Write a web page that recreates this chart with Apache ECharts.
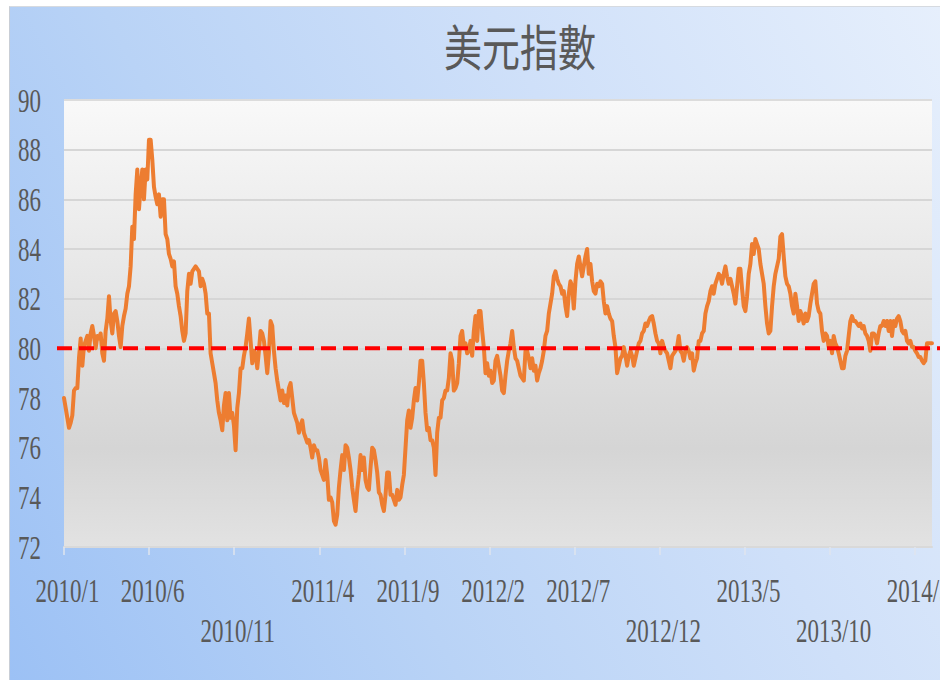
<!DOCTYPE html>
<html>
<head>
<meta charset="utf-8">
<script src="https://cdn.jsdelivr.net/npm/echarts@6/dist/echarts.min.js"></script>
<style>
  html, body { margin: 0; padding: 0; background: #ffffff; }
  #wrap { position: relative; width: 940px; height: 680px; overflow: hidden; background: #ffffff; }
  #bg { position: absolute; left: 9px; top: 6px; width: 931px; height: 674px;
        border-left: 1px solid #c9ced6; border-top: 1px solid #d6dae0;
        background: linear-gradient(62deg, #9cc1f5 0%, #b9d3f6 35%, #cfe0f9 65%, #e6effc 100%); }
  #main { position: absolute; left: 0; top: 0; width: 940px; height: 680px; }
</style>
</head>
<body>
<div id="wrap"><div id="bg"></div><div id="main"></div></div>
<script>
// ---- data -------------------------------------------------------------
const chartTitle = '美元指數';
const startDate = '2010/1/1';
const stepDays = 2.975;              // spacing of the samples
const tickIntervalDays = 152;        // ~5 months
const axisMaxDays = 1550;
const tickLabels = ['2010/1','2010/6','2010/11','2011/4','2011/9','2012/2','2012/7','2012/12','2013/5','2013/10','2014/3'];
const tickRows   = [0, 0, 1, 0, 0, 0, 0, 1, 0, 1, 0];
const yMin = 72, yMax = 90, yStep = 2;
const baselineValue = 80;

const usdIndexA = [
78.0,77.6,77.2,76.8,77.0,77.3,78.3,78.4,78.4,79.6,80.4,79.3,80.1,80.3,80.5,79.9,80.6,80.9,80.5,80.0,
80.5,80.4,80.6,79.8,79.5,80.7,81.2,82.1,81.1,80.6,81.4,81.5,81.1,80.5,80.05,80.9,81.3,81.6,82.2,82.5,
83.3,84.9,84.4,86.2,87.2,85.6,86.5,87.2,86.0,87.2,86.8,88.4,88.4,87.6,86.5,86.1,85.8,86.2,85.3,86.0,
86.0,84.6,84.4,83.8,83.6,83.3,83.5,82.5,82.2,81.7,81.3,80.7,80.3,80.6,82.3,83.0,82.6,83.1,83.2,83.3,
83.2,83.1,82.5,82.8,82.6,82.2,81.4,81.4,79.8,79.4,79.0,78.6,77.9,77.4,77.1,76.7,77.7,78.2,77.1,78.2,
77.2,77.4,76.9,75.9,77.6,78.2,79.2,79.2,79.7,80.05,80.6,81.2,80.3,79.4,79.9,79.8,79.2,79.9,80.7,80.6,
80.3,79.7,79.0,79.8,81.1,80.9,79.9,79.2,78.7,78.3,77.9,78.3,77.8,78.1,77.7,78.4,78.6,78.0,77.4,77.2,
77.0,76.6,76.9,77.1,76.6,76.4,76.2,76.3,76.0,75.6,76.1,75.9,75.9,75.6
];
const usdIndexB = [
75.1,74.9,74.7,75.5,74.9,73.9,74.0,73.8,73.05,72.9,73.3,74.4,75.1,75.7,75.1,76.1,76.0,75.6,75.1,74.4,
73.9,73.45,74.3,74.9,75.7,75.1,75.6,74.7,74.4,74.3,75.2,76.0,75.9,75.5,75.0,74.2,74.1,73.7,73.45,74.1,
75.0,75.0,74.1,74.1,73.9,73.7,74.3,73.9,74.0,74.5,74.9,76.0,77.1,77.5,76.8,77.2,77.9,78.4,77.9,78.6,
79.5,79.5,78.6,77.4,76.7,76.8,76.3,76.3,76.0,74.9,76.6,77.2,77.2,77.9,78.0,78.3,78.3,78.8,79.8,79.5,
78.3,78.4,78.6,79.4,80.5,80.7,80.05,80.2,79.8,79.9,80.3,79.7,80.7,81.3,80.3,81.5,81.5,80.7,80.05,79.0,
79.4,78.9,79.1,78.6,78.7,79.5,79.7,79.3,78.9,78.3,78.2,78.9,79.5,79.9,80.2,80.7,80.05,79.6,79.5,79.2,
78.9,78.8,78.7,79.9,79.9,79.6,79.2,79.6,79.1,79.3,78.7,79.0,79.2,79.5,79.9,80.5,80.7,81.4,81.8,82.2,
82.9,83.1,82.8,82.6,82.5,82.2,82.3,81.7,81.3,82.2,82.7,82.5,81.6,82.7,83.4,83.7,83.3,82.9,83.3,83.7,
84.0,83.0,83.4,82.7,82.3,82.2,82.6,82.5,82.7,82.6,81.9,81.4,81.7,81.4,81.2,81.1,80.5,80.05,79.0,79.3
];
const usdIndexC = [
79.6,79.7,80.05,79.7,79.3,79.7,79.9,79.7,79.3,79.6,79.9,80.2,80.3,80.6,80.7,81.0,80.9,81.1,81.25,81.3,
81.0,80.6,80.3,80.2,79.8,80.3,80.05,79.9,79.8,79.5,79.2,79.7,79.8,79.9,80.05,80.5,79.9,79.8,79.5,79.9,
80.05,79.9,79.6,79.8,79.1,79.4,79.6,80.3,80.3,80.6,80.7,81.4,81.7,81.9,82.3,82.5,82.2,82.6,82.8,83.0,
82.9,82.6,83.0,83.3,82.9,82.6,82.8,82.5,82.2,81.8,82.5,83.2,83.2,82.4,81.7,81.5,82.1,83.0,83.4,84.2,
83.8,84.4,84.2,84.0,83.4,83.0,82.6,81.7,81.0,80.6,80.7,81.7,82.5,83.0,83.3,83.6,84.5,84.6,83.7,82.9,
82.6,82.5,82.2,81.7,81.4,82.2,81.7,81.1,81.5,81.3,81.0,81.4,81.1,81.3,81.8,82.2,82.6,82.7,81.8,81.5,
81.4,80.7,80.3,80.6,80.5,80.05,80.3,79.8,80.5,80.2,80.05,79.8,79.5,79.2,79.2,79.7,79.9,80.5,81.1,81.3,
81.1,81.1,81.0,80.9,81.0,80.8,80.9,80.6,80.5,80.3,79.9,80.6,80.6,80.5,80.2,80.6,80.9,80.9,81.1,80.9,
81.1,80.7,81.1,80.5,81.1,80.9,81.2,81.3,81.1,80.7,80.6,80.7,80.3,80.2,80.3,80.05,80.05,79.9,79.8,79.65,
79.65,79.5,79.4,79.5,80.2,80.2,80.2,80.2
];

// ---- build ------------------------------------------------------------
const usdIndex = usdIndexA.concat(usdIndexB, usdIndexC);
const seriesData = usdIndex.map((v, i) => [i * stepDays, v]);

const textColor = '#595959';
const serif = '"Liberation Serif", "Times New Roman", serif';
const LABEL_STRETCH = 1.45;
const TITLE_STRETCH = 1.3;

const chart = echarts.init(document.getElementById('main'), null, { renderer: 'svg', width: 940, height: 680 });

chart.setOption({
  animation: false,
  backgroundColor: 'transparent',
  title: {
    text: chartTitle,
    left: 515,
    top: 21,
    textAlign: 'center',
    textStyle: { fontFamily: '"Noto Sans CJK TC", "Noto Sans CJK SC", sans-serif', fontSize: 38, fontWeight: 'normal', color: textColor }
  },
  grid: [
    { left: 64, right: 8, top: 100, bottom: 133, show: true, borderWidth: 0,
      outerBoundsMode: 'none', containLabel: false,
      backgroundColor: { type: 'linear', x: 0, y: 0, x2: 0, y2: 1, colorStops: [
        { offset: 0, color: '#f9f9f9' }, { offset: 0.5, color: '#e2e2e2' },
        { offset: 0.78, color: '#d5d5d5' }, { offset: 1, color: '#e2e2e2' } ] } },
    { left: 57, right: 0, top: 100, bottom: 133, outerBoundsMode: 'none', containLabel: false }
  ],
  xAxis: [
    { type: 'value', gridIndex: 0, min: 0, max: axisMaxDays, interval: tickIntervalDays,
      splitLine: { show: false },
      axisLine: { show: true, onZero: false, lineStyle: { color: '#d9d9d9', width: 2 } },
      axisTick: { show: true, length: 8, lineStyle: { color: '#dfe5ee', width: 1.5 } },
      axisLabel: {
        margin: 23, lineHeight: 40, fontSize: 23, fontFamily: serif, color: textColor,
        padding: [0, 0, 0, 7],
        showMinLabel: true, showMaxLabel: false,
        formatter: v => {
          const i = Math.round(v / tickIntervalDays);
          const lab = tickLabels[i] || '';
          return tickRows[i] ? '\n' + lab : lab;
        }
      } },
    { type: 'value', gridIndex: 1, min: 0, max: 1, show: false }
  ],
  yAxis: [
    { type: 'value', gridIndex: 0, min: yMin, max: yMax, interval: yStep,
      axisLine: { show: false }, axisTick: { show: false },
      splitLine: { show: true, lineStyle: {
        // 72 … 90: lower lines blend into the darker band of the plot gradient
        color: ['#e0e0e0', '#dbdbdb', '#d5d5d5', '#dadada', '#d6d6d6', '#d6d6d6', '#d6d6d6', '#d6d6d6', '#d6d6d6', '#dcdcdc'],
        width: 2 } },
      axisLabel: { margin: 23, fontSize: 23, fontFamily: serif, color: textColor } },
    { type: 'value', gridIndex: 1, min: yMin, max: yMax, show: false }
  ],
  series: [
    { name: chartTitle, type: 'line', xAxisIndex: 0, yAxisIndex: 0, data: seriesData,
      showSymbol: false, symbol: 'none', z: 2,
      lineStyle: { color: '#ed7d31', width: 4, join: 'round', cap: 'round' } },
    { name: 'baseline', type: 'line', xAxisIndex: 1, yAxisIndex: 1,
      data: [[0, baselineValue], [1, baselineValue]], showSymbol: false, symbol: 'none', z: 3,
      lineStyle: { color: '#ff0000', width: 4, type: [15, 7], cap: 'butt' } }
  ]
});

// The reference text is drawn tall and narrow: stretch each text vertically around its own centre.
function stretchTexts() {
  const svg = document.querySelector('#main svg');
  if (!svg) return;
  svg.querySelectorAll('text').forEach(t => {
    if (t.getAttribute('data-st')) return;
    const s = /[\u4e00-\u9fff]/.test(t.textContent) ? TITLE_STRETCH : LABEL_STRETCH;
    let b;
    try { b = t.getBBox(); } catch (e) { return; }
    const cx = b.x + b.width / 2, cy = b.y + b.height / 2;
    const tr = t.getAttribute('transform') || '';
    t.setAttribute('transform', (tr + ' translate(' + cx + ' ' + cy + ') scale(1 ' + s + ') translate(' + (-cx) + ' ' + (-cy) + ')').trim());
    t.setAttribute('data-st', '1');
  });
}
chart.on('finished', stretchTexts);
setTimeout(stretchTexts, 300);
</script>
</body>
</html>
